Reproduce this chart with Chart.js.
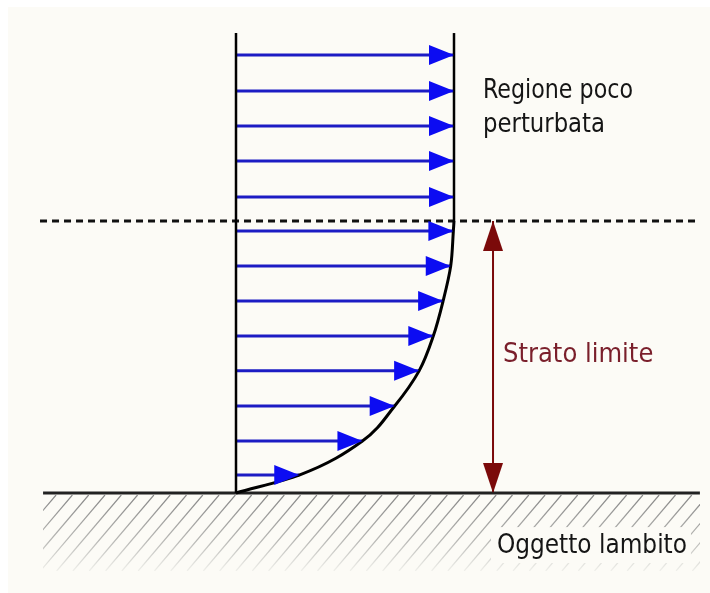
<!DOCTYPE html>
<html>
<head>
<meta charset="utf-8">
<script src="https://cdn.jsdelivr.net/npm/chart.js@4/dist/chart.umd.min.js"></script>
<style>
  html, body { margin: 0; padding: 0; background: #fff; }
  canvas { display: block; }
</style>
</head>
<body>
<canvas id="profile" width="710" height="593"></canvas>
<script>
// velocity arrows: height above the wall (in units of the layer thickness) and length (u / U)
const heights = [0.066, 0.191, 0.320, 0.449, 0.577, 0.706, 0.835, 0.963, 1.088, 1.221, 1.349, 1.478, 1.610];
const speeds  = [0.29, 0.58, 0.728, 0.84, 0.905, 0.95, 0.985, 0.997, 1, 1, 1, 1, 1];

const wallTop = 1.691;        // top of the two vertical lines
const layerEdge = 1;          // dashed line = boundary layer thickness
const groundSpan = [-0.885, 2.128];
const dashSpan = [-0.899, 2.128];
const markerX = 1.179;        // red double arrow

const labels = [
  { text: "Regione poco", x: 1.133, y: 1.452, color: "#151515", w: 150 },
  { text: "perturbata",   x: 1.133, y: 1.327, color: "#151515", w: 122 },
  { text: "Strato limite", x: 1.225, y: 0.482, color: "#7a1f2b", w: 156 },
  { text: "Oggetto lambito", x: 1.197, y: -0.221, color: "#151515", w: 190, box: true }
];

const FONT = "27px 'DejaVu Sans Condensed', 'DejaVu Sans', sans-serif";

// profile curve passes through the arrow tips inside the layer
const curve = [{ x: 0, y: 0 }];
heights.forEach((h, i) => { if (speeds[i] < 1) curve.push({ x: speeds[i], y: h }); });
curve.push({ x: 1, y: layerEdge });

const arrowSets = heights.map((h, i) => ({
  data: [{ x: 0, y: h }, { x: speeds[i], y: h }],
  borderColor: "#1c1cc4",
  borderWidth: 3,
  arrow: true
}));

const line = (data, color, width, extra) => Object.assign({
  data, borderColor: color, borderWidth: width
}, extra || {});

const datasets = [
  // u(y) is monotone in height, so interpolate along the y axis
  line(curve, "#000", 3, { indexAxis: "y", cubicInterpolationMode: "monotone" }),
  line([{ x: 1, y: layerEdge }, { x: 1, y: wallTop }], "#000", 2.5),
  line([{ x: 0, y: 0 }, { x: 0, y: wallTop }], "#000", 2.5),
  line([{ x: dashSpan[0], y: layerEdge }, { x: dashSpan[1], y: layerEdge }], "#111", 3, { borderDash: [7, 5] }),
  line([{ x: groundSpan[0], y: 0 }, { x: groundSpan[1], y: 0 }], "#222", 3),
  line([{ x: markerX, y: 0 }, { x: markerX, y: layerEdge }], "#7b0a0a", 2)
].concat(arrowSets);

const sketch = {
  id: "sketch",
  beforeDraw(chart) {
    const c = chart.ctx;
    c.save();
    c.fillStyle = "#ffffff";
    c.fillRect(0, 0, chart.width, chart.height);
    c.fillStyle = "#fcfbf6";
    c.fillRect(8, 7, chart.width - 8, chart.height - 7);
    c.restore();
  },
  beforeDatasetsDraw(chart) {
    // hatching below the wall
    const c = chart.ctx, sx = chart.scales.x, sy = chart.scales.y;
    const x0 = sx.getPixelForValue(groundSpan[0]);
    const x1 = sx.getPixelForValue(groundSpan[1]);
    const top = sy.getPixelForValue(0) + 2;
    const depth = 76;
    c.save();
    c.beginPath();
    c.rect(x0, top, x1 - x0, depth);
    c.clip();
    const g = c.createLinearGradient(0, top, 0, top + depth);
    g.addColorStop(0, "#858585");
    g.addColorStop(0.6, "#b8b8b5");
    g.addColorStop(1, "#efefea");
    c.strokeStyle = g;
    c.lineWidth = 1.2;
    for (let x = x0 + 13; x < x1 + depth; x += 16.3) {
      c.beginPath();
      c.moveTo(x, top);
      c.lineTo(x - depth * 0.85, top + depth);
      c.stroke();
    }
    c.restore();
  },
  afterDatasetsDraw(chart) {
    const c = chart.ctx, sx = chart.scales.x, sy = chart.scales.y;
    c.save();
    // blue arrow heads at each tip
    c.fillStyle = "#0c0cf2";
    chart.data.datasets.forEach((ds, i) => {
      if (!ds.arrow) return;
      const tip = chart.getDatasetMeta(i).data[1];
      c.beginPath();
      c.moveTo(tip.x, tip.y);
      c.lineTo(tip.x - 25, tip.y - 10);
      c.lineTo(tip.x - 25, tip.y + 10);
      c.closePath();
      c.fill();
    });
    // red double arrow heads
    const mx = sx.getPixelForValue(markerX);
    const yTop = sy.getPixelForValue(layerEdge), yBot = sy.getPixelForValue(0);
    c.fillStyle = "#7b0a0a";
    c.beginPath();
    c.moveTo(mx, yTop); c.lineTo(mx - 10, yTop + 30); c.lineTo(mx + 10, yTop + 30); c.closePath();
    c.fill();
    c.beginPath();
    c.moveTo(mx, yBot); c.lineTo(mx - 10, yBot - 30); c.lineTo(mx + 10, yBot - 30); c.closePath();
    c.fill();
    // labels
    c.font = FONT;
    c.textBaseline = "alphabetic";
    labels.forEach(l => {
      const px = sx.getPixelForValue(l.x), py = sy.getPixelForValue(l.y);
      if (l.box) {
        c.fillStyle = "#fcfbf6";
        c.fillRect(px - 6, py - 26, l.w + 10, 36);
      }
      c.fillStyle = l.color;
      c.fillText(l.text, px, py, l.w);
    });
    c.restore();
  }
};

new Chart(document.getElementById("profile"), {
  type: "line",
  data: { datasets },
  options: {
    responsive: false,
    animation: false,
    devicePixelRatio: 1,
    layout: { padding: 0 },
    elements: { point: { radius: 0, hoverRadius: 0 }, line: { tension: 0, borderCapStyle: "butt", fill: false } },
    plugins: { legend: { display: false }, tooltip: { enabled: false } },
    events: [],
    scales: {
      x: { type: "linear", display: false, min: -236 / 218, max: (710 - 236) / 218 },
      y: { type: "linear", display: false, min: 1.8125 - 593 / 272, max: 1.8125 }
    }
  },
  plugins: [sketch]
});
</script>
</body>
</html>
